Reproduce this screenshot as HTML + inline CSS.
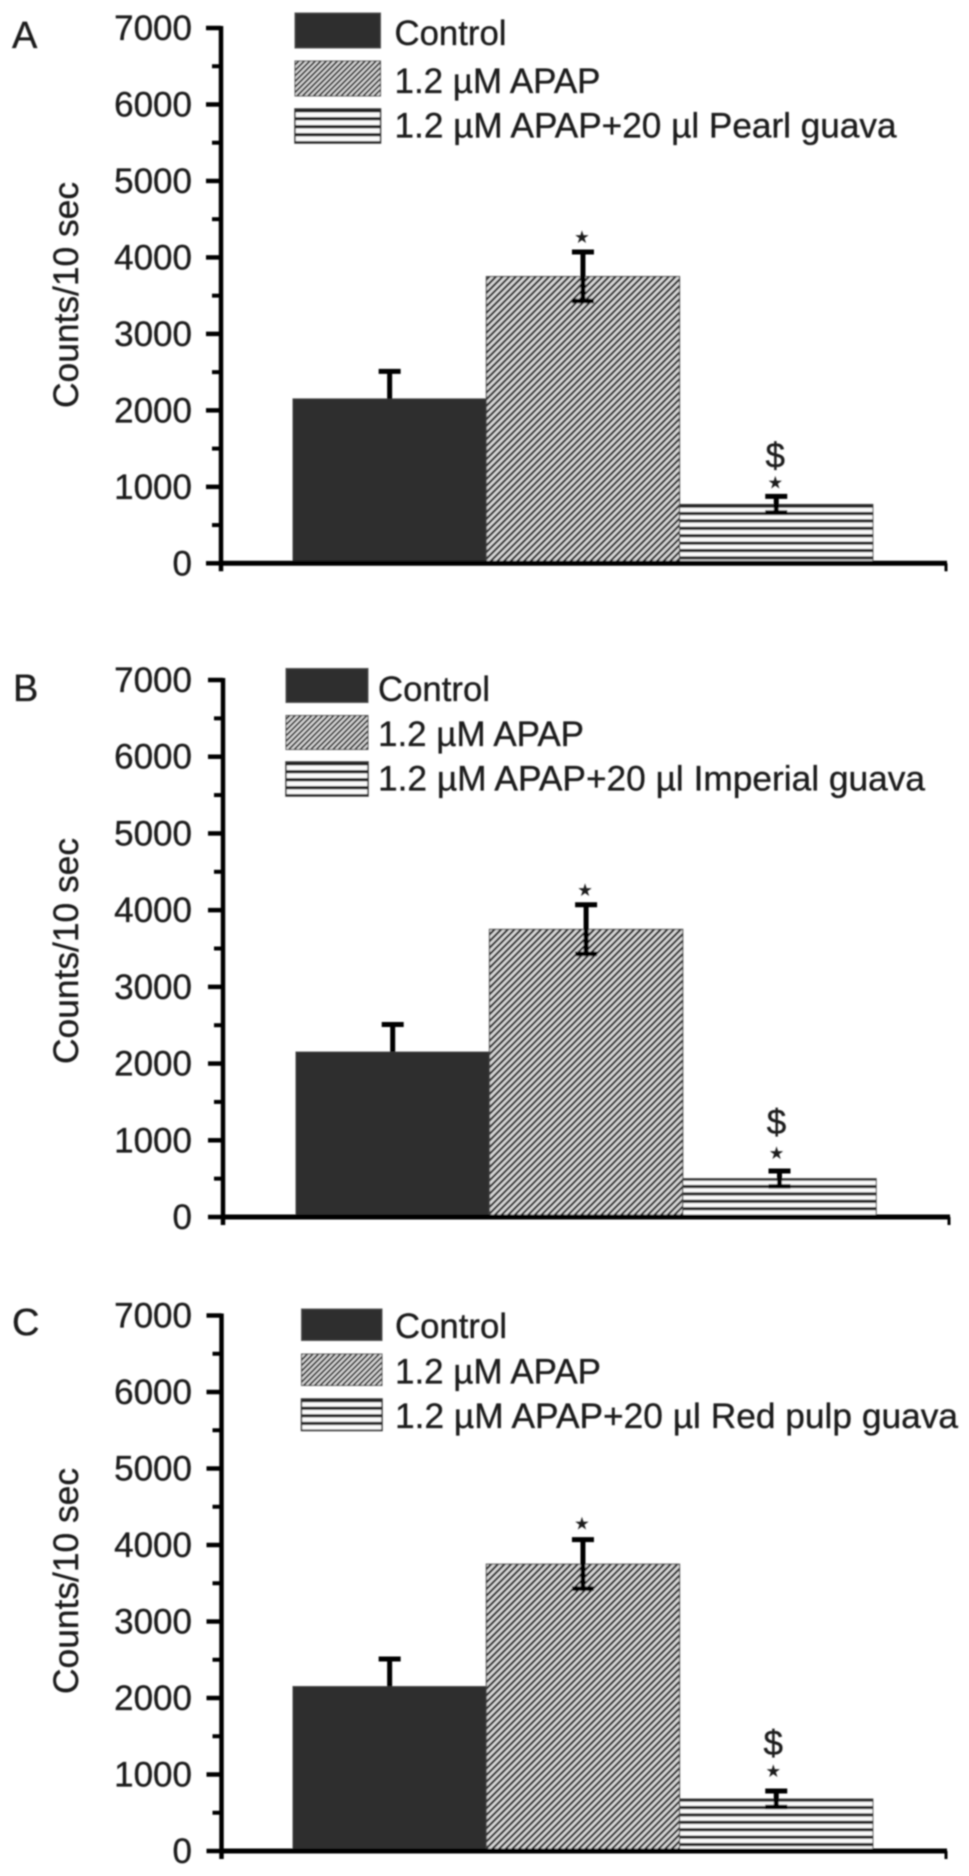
<!DOCTYPE html>
<html lang="en">
<head>
<meta charset="utf-8">
<title>Counts per 10 sec by treatment</title>
<style>
html,body{margin:0;padding:0;background:#fff;}
svg{display:block;}
text{font-family:"Liberation Sans",Arial,sans-serif;fill:#1c1c1c;stroke:#1c1c1c;stroke-width:0.35px;}
.lg{font-size:35px;}
.title{font-size:35px;}
.letter{font-size:38px;}
.tick{font-size:35px;text-anchor:end;}
.star{font-family:"DejaVu Sans",sans-serif;font-size:16px;text-anchor:middle;}
.dollar{font-size:35px;text-anchor:middle;}
</style>
</head>
<body>
<svg id="figure" xmlns="http://www.w3.org/2000/svg" width="969" height="1876" viewBox="0 0 969 1876">
<defs>
<filter id="soft" filterUnits="userSpaceOnUse" x="0" y="0" width="969" height="1876"><feGaussianBlur stdDeviation="0.7"/></filter>
<pattern id="hatch-bar" patternUnits="userSpaceOnUse" width="4.7" height="4.7" patternTransform="rotate(45)">
<rect width="4.7" height="4.7" fill="#dcdcdc"/><rect width="2.3" height="4.7" fill="#2e2e2e"/>
</pattern>
<pattern id="hatch-legend" patternUnits="userSpaceOnUse" width="3.9" height="3.9" patternTransform="rotate(45)">
<rect width="3.9" height="3.9" fill="#dcdcdc"/><rect width="1.9" height="3.9" fill="#2e2e2e"/>
</pattern>
<pattern id="stripe-a" patternUnits="userSpaceOnUse" width="10" height="7.4" y="504.5">
<rect width="10" height="7.4" fill="#fafafa"/><rect width="10" height="3.2" fill="#222"/>
</pattern>
<pattern id="stripe-b" patternUnits="userSpaceOnUse" width="10" height="7.4" y="1177.5">
<rect width="10" height="7.4" fill="#fafafa"/><rect width="10" height="3.2" fill="#222"/>
</pattern>
<pattern id="stripe-c" patternUnits="userSpaceOnUse" width="10" height="7.4" y="1798.5">
<rect width="10" height="7.4" fill="#fafafa"/><rect width="10" height="3.2" fill="#222"/>
</pattern>
<pattern id="stripe-legend-a" patternUnits="userSpaceOnUse" width="10" height="8" y="109">
<rect width="10" height="8" fill="#fafafa"/><rect width="10" height="3.4" fill="#222"/>
</pattern>
<pattern id="stripe-legend-b" patternUnits="userSpaceOnUse" width="10" height="8" y="762">
<rect width="10" height="8" fill="#fafafa"/><rect width="10" height="3.4" fill="#222"/>
</pattern>
<pattern id="stripe-legend-c" patternUnits="userSpaceOnUse" width="10" height="7.6" y="1399">
<rect width="10" height="7.6" fill="#fafafa"/><rect width="10" height="3.2" fill="#222"/>
</pattern>
</defs>
<g id="root" filter="url(#soft)">
<g id="panel-a">
<text class="letter" x="12" y="48">A</text>
<text class="title" transform="translate(78,295) rotate(-90)" text-anchor="middle" textLength="226" lengthAdjust="spacingAndGlyphs">Counts/10 sec</text>
<g>
<rect x="295" y="13" width="85.5" height="35" fill="#2e2e2e" stroke="#555"/>
<rect x="295" y="61" width="85.5" height="35" fill="url(#hatch-legend)" stroke="#555"/>
<rect x="295" y="109" width="85.5" height="34" fill="url(#stripe-legend-a)" stroke="#333" stroke-width="1.5"/>
<text class="lg" x="394.5" y="45" textLength="112" lengthAdjust="spacingAndGlyphs">Control</text>
<text class="lg" x="394.5" y="93" textLength="206" lengthAdjust="spacingAndGlyphs">1.2 µM APAP</text>
<text class="lg" x="394.5" y="137.5" textLength="502" lengthAdjust="spacingAndGlyphs">1.2 µM APAP+20 µl Pearl guava</text>
</g>
</g>
<g id="panel-b">
<text class="letter" x="13" y="701">B</text>
<text class="title" transform="translate(78,951) rotate(-90)" text-anchor="middle" textLength="226" lengthAdjust="spacingAndGlyphs">Counts/10 sec</text>
<g>
<rect x="286" y="668.5" width="82" height="34" fill="#2e2e2e" stroke="#555"/>
<rect x="286" y="715.5" width="82" height="34" fill="url(#hatch-legend)" stroke="#555"/>
<rect x="286" y="762" width="82" height="34" fill="url(#stripe-legend-b)" stroke="#333" stroke-width="1.5"/>
<text class="lg" x="378" y="701" textLength="112" lengthAdjust="spacingAndGlyphs">Control</text>
<text class="lg" x="378" y="746" textLength="206" lengthAdjust="spacingAndGlyphs">1.2 µM APAP</text>
<text class="lg" x="378" y="790.5" textLength="547" lengthAdjust="spacingAndGlyphs">1.2 µM APAP+20 µl Imperial guava</text>
</g>
</g>
<g id="panel-c">
<text class="letter" x="12" y="1335">C</text>
<text class="title" transform="translate(78,1581) rotate(-90)" text-anchor="middle" textLength="226" lengthAdjust="spacingAndGlyphs">Counts/10 sec</text>
<g>
<rect x="301.5" y="1309" width="80.5" height="31.5" fill="#2e2e2e" stroke="#555"/>
<rect x="301.5" y="1354" width="80.5" height="31.5" fill="url(#hatch-legend)" stroke="#555"/>
<rect x="301.5" y="1399" width="80.5" height="31.5" fill="url(#stripe-legend-c)" stroke="#333" stroke-width="1.5"/>
<text class="lg" x="395" y="1338" textLength="112" lengthAdjust="spacingAndGlyphs">Control</text>
<text class="lg" x="395" y="1383.5" textLength="206" lengthAdjust="spacingAndGlyphs">1.2 µM APAP</text>
<text class="lg" x="395" y="1428" textLength="563" lengthAdjust="spacingAndGlyphs">1.2 µM APAP+20 µl Red pulp guava</text>
</g>
</g>
</g>
</svg>
<script>
// Chart data
const tickLabels = [0, 1000, 2000, 3000, 4000, 5000, 6000, 7000];
const minorTicks = [500, 1500, 2500, 3500, 4500, 5500, 6500];
const axisMax = 7000;
const categories = ['control', 'apap', 'guava'];
const panelAValues = [2150, 3750, 770];
const panelBValues = [2150, 3750, 500];
const panelCValues = [2150, 3750, 680];
const panelAErrors = [360, 320, 105];
const panelBErrors = [360, 320, 100];
const panelCErrors = [360, 320, 105];

const NS = 'http://www.w3.org/2000/svg';
function mk(parent, tag, attrs) {
  const el = document.createElementNS(NS, tag);
  for (const k in attrs) el.setAttribute(k, attrs[k]);
  parent.appendChild(el);
  return el;
}

function drawPanel(id, values, errors, g) {
  const host = document.getElementById(id);
  const y = v => g.y0 - v * (g.y0 - g.yTop) / axisMax;
  const barX = i => g.barLeft + i * g.barWidth;
  const fills = ['#2e2e2e', 'url(#hatch-bar)', 'url(#' + g.stripe + ')'];

  categories.forEach((cat, i) => {
    const bar = mk(host, 'rect', {
      x: barX(i), y: y(values[i]), width: g.barWidth, height: g.y0 - y(values[i]),
      fill: fills[i], stroke: i === 0 ? '#444' : '#444', 'stroke-width': 1
    });
    
    
  });

  const yAxis = mk(host, 'line', { x1: g.axisX, x2: g.axisX, y1: g.yTop - 2, y2: g.y0 + 8, stroke: '#000', 'stroke-width': 4.5 });
  
  

  const xAxis = mk(host, 'line', { x1: g.axisX, x2: g.xEnd, y1: g.y0, y2: g.y0, stroke: '#000', 'stroke-width': 5 });
  
  

  const xEndTick = mk(host, 'line', { x1: g.xEnd - 1, x2: g.xEnd - 1, y1: g.y0, y2: g.y0 + 8, stroke: '#000', 'stroke-width': 3 });
  
  

  tickLabels.forEach(v => {
    const tick = mk(host, 'line', { x1: g.axisX - 15, x2: g.axisX, y1: y(v), y2: y(v), stroke: '#000', 'stroke-width': 4.5 });
    
    
    const label = mk(host, 'text', { x: 192, y: y(v) + 12, class: 'tick' });
    label.textContent = v;
    
    
  });

  minorTicks.forEach(v => {
    const minor = mk(host, 'line', { x1: g.axisX - 9, x2: g.axisX, y1: y(v), y2: y(v), stroke: '#000', 'stroke-width': 4 });
    
    
  });

  categories.forEach((cat, i) => {
    const cx = barX(i) + g.barWidth / 2;
    const top = y(values[i] + errors[i]);
    const bottom = i === 0 ? y(values[i]) : y(values[i] - errors[i]);
    const stem = mk(host, 'line', { x1: cx, x2: cx, y1: top, y2: bottom, stroke: '#000', 'stroke-width': 5 });
    
    
    const capTop = mk(host, 'line', { x1: cx - 11, x2: cx + 11, y1: top, y2: top, stroke: '#000', 'stroke-width': 5 });
    
    
    if (i > 0) {
      const capBottom = mk(host, 'line', { x1: cx - 11, x2: cx + 11, y1: bottom, y2: bottom, stroke: '#000', 'stroke-width': 4.5 });
      
      
      const star = mk(host, 'text', { x: cx + (i === 1 ? -1 : g.markShift), y: top - (i === 1 ? g.starApap : g.starGuava) + 5.5, class: 'star' });
      star.textContent = '★';
      
      
    }
    if (i === 2) {
      const dollar = mk(host, 'text', { x: cx + g.markShift, y: top - g.dollarGap + 12, class: 'dollar' });
      dollar.textContent = '$';
      
      
    }
  });
}

drawPanel('panel-a', panelAValues, panelAErrors, { y0: 563.3, yTop: 28, axisX: 221, xEnd: 947, barLeft: 293, barWidth: 193.3, stripe: 'stripe-a', starApap: 15, starGuava: 14, dollarGap: 41, markShift: -1 });
drawPanel('panel-b', panelBValues, panelBErrors, { y0: 1217, yTop: 680, axisX: 223, xEnd: 950, barLeft: 296, barWidth: 193.4, stripe: 'stripe-b', starApap: 15, starGuava: 18, dollarGap: 49, markShift: -3 });
drawPanel('panel-c', panelCValues, panelCErrors, { y0: 1851, yTop: 1315.5, axisX: 221.5, xEnd: 947, barLeft: 293, barWidth: 193.3, stripe: 'stripe-c', starApap: 16, starGuava: 20, dollarGap: 48, markShift: -3 });
</script>
</body>
</html>
